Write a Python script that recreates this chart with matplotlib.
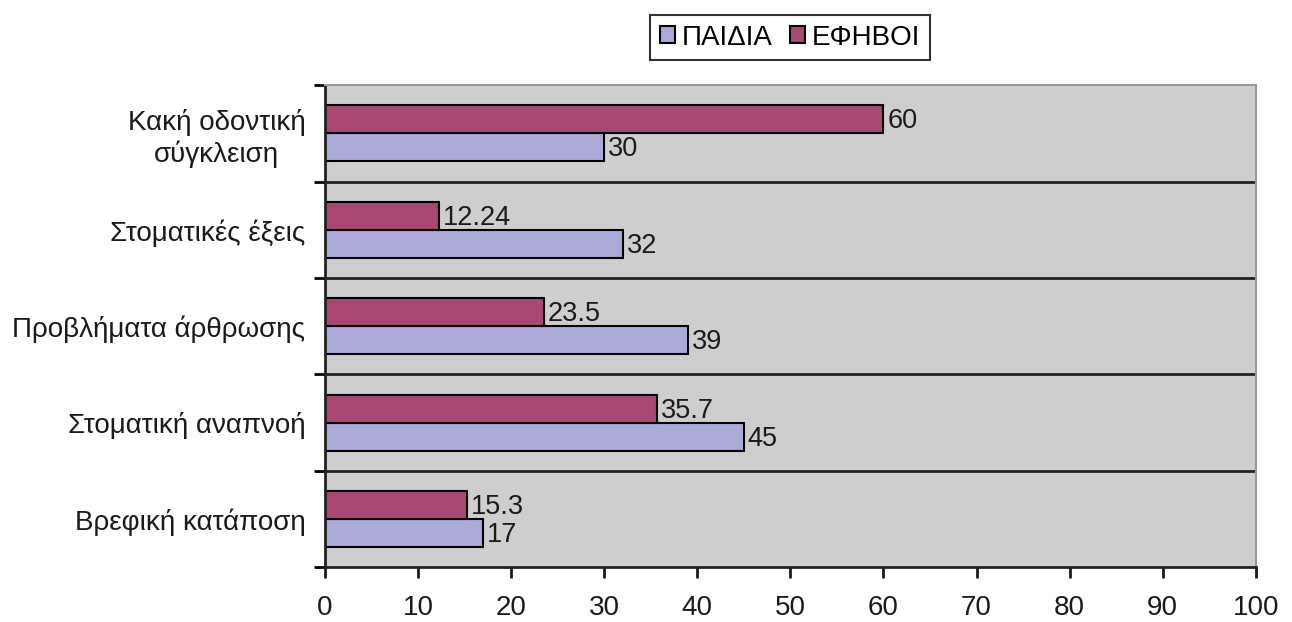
import numpy as np
import matplotlib.pyplot as plt

plt.rcParams['font.family'] = ['Liberation Sans', 'DejaVu Sans']

# Data
categories = ["Κακή οδοντική\nσύγκλειση", "Στοματικές έξεις", "Προβλήματα άρθρωσης",
              "Στοματική αναπνοή", "Βρεφική κατάποση"]
paidia = [30, 32, 39, 45, 17]
efivoi = [60, 12.24, 23.5, 35.7, 15.3]
efivoi_labels = ["60", "12.24", "23.5", "35.7", "15.3"]
paidia_labels = ["30", "32", "39", "45", "17"]

c_paidia = "#abaad8"
c_efivoi = "#a94873"

fig, ax = plt.subplots(figsize=(12.92, 6.22), dpi=100)
fig.subplots_adjust(left=0.2515, right=0.972, top=0.863, bottom=0.088)

y = np.arange(len(categories))
h = 0.29
b1 = ax.barh(y + h / 2, paidia, height=h, color=c_paidia, edgecolor="black", linewidth=1.5, label="ΠΑΙΔΙΑ")
b2 = ax.barh(y - h / 2, efivoi, height=h, color=c_efivoi, edgecolor="black", linewidth=1.5, label="ΕΦΗΒΟΙ")

for rect, lab in zip(b1, paidia_labels):
    ax.text(rect.get_width() + 0.4, rect.get_y() + rect.get_height() / 2 + 0.02, lab,
            va="center", ha="left", fontsize=19.5, color="#1a1a1a")
for rect, lab in zip(b2, efivoi_labels):
    ax.text(rect.get_width() + 0.4, rect.get_y() + rect.get_height() / 2 + 0.02, lab,
            va="center", ha="left", fontsize=19.5, color="#1a1a1a")

ax.set_facecolor("#cecece")
ax.set_xlim(0, 100)
ax.set_ylim(len(categories) - 0.5, -0.5)
ax.set_xticks(range(0, 101, 10))
ax.tick_params(axis="x", labelsize=20, length=8, width=2, pad=12, colors="#1a1a1a")

# category boundary ticks and gridlines
ax.set_yticks(np.arange(-0.5, len(categories), 1.0))
ax.set_yticklabels([])
ax.tick_params(axis="y", length=8, width=2)
ax.set_yticks(y, minor=True)
ax.set_yticklabels(categories, minor=True, fontsize=20, ha="right", multialignment="center",
                   color="#1a1a1a")
ax.tick_params(axis="y", which="minor", length=0, pad=14)
for b in np.arange(0.5, len(categories) - 1, 1.0):
    ax.axhline(b, color="#222222", linewidth=2)

for s in ["left", "bottom"]:
    ax.spines[s].set_linewidth(2)
    ax.spines[s].set_color("#222222")
for s in ["top", "right"]:
    ax.spines[s].set_linewidth(1.5)
    ax.spines[s].set_color("#999999")

leg = fig.legend(handles=[b1, b2], loc="center", bbox_to_anchor=(0.6115, 0.9395), ncol=2,
                 fontsize=20, frameon=True, fancybox=False, edgecolor="black",
                 handlelength=0.55, handleheight=0.55, handletextpad=0.25, columnspacing=0.6,
                 borderpad=0.35)
leg.get_frame().set_linewidth(1.5)

plt.savefig("out.png", dpi=100)
